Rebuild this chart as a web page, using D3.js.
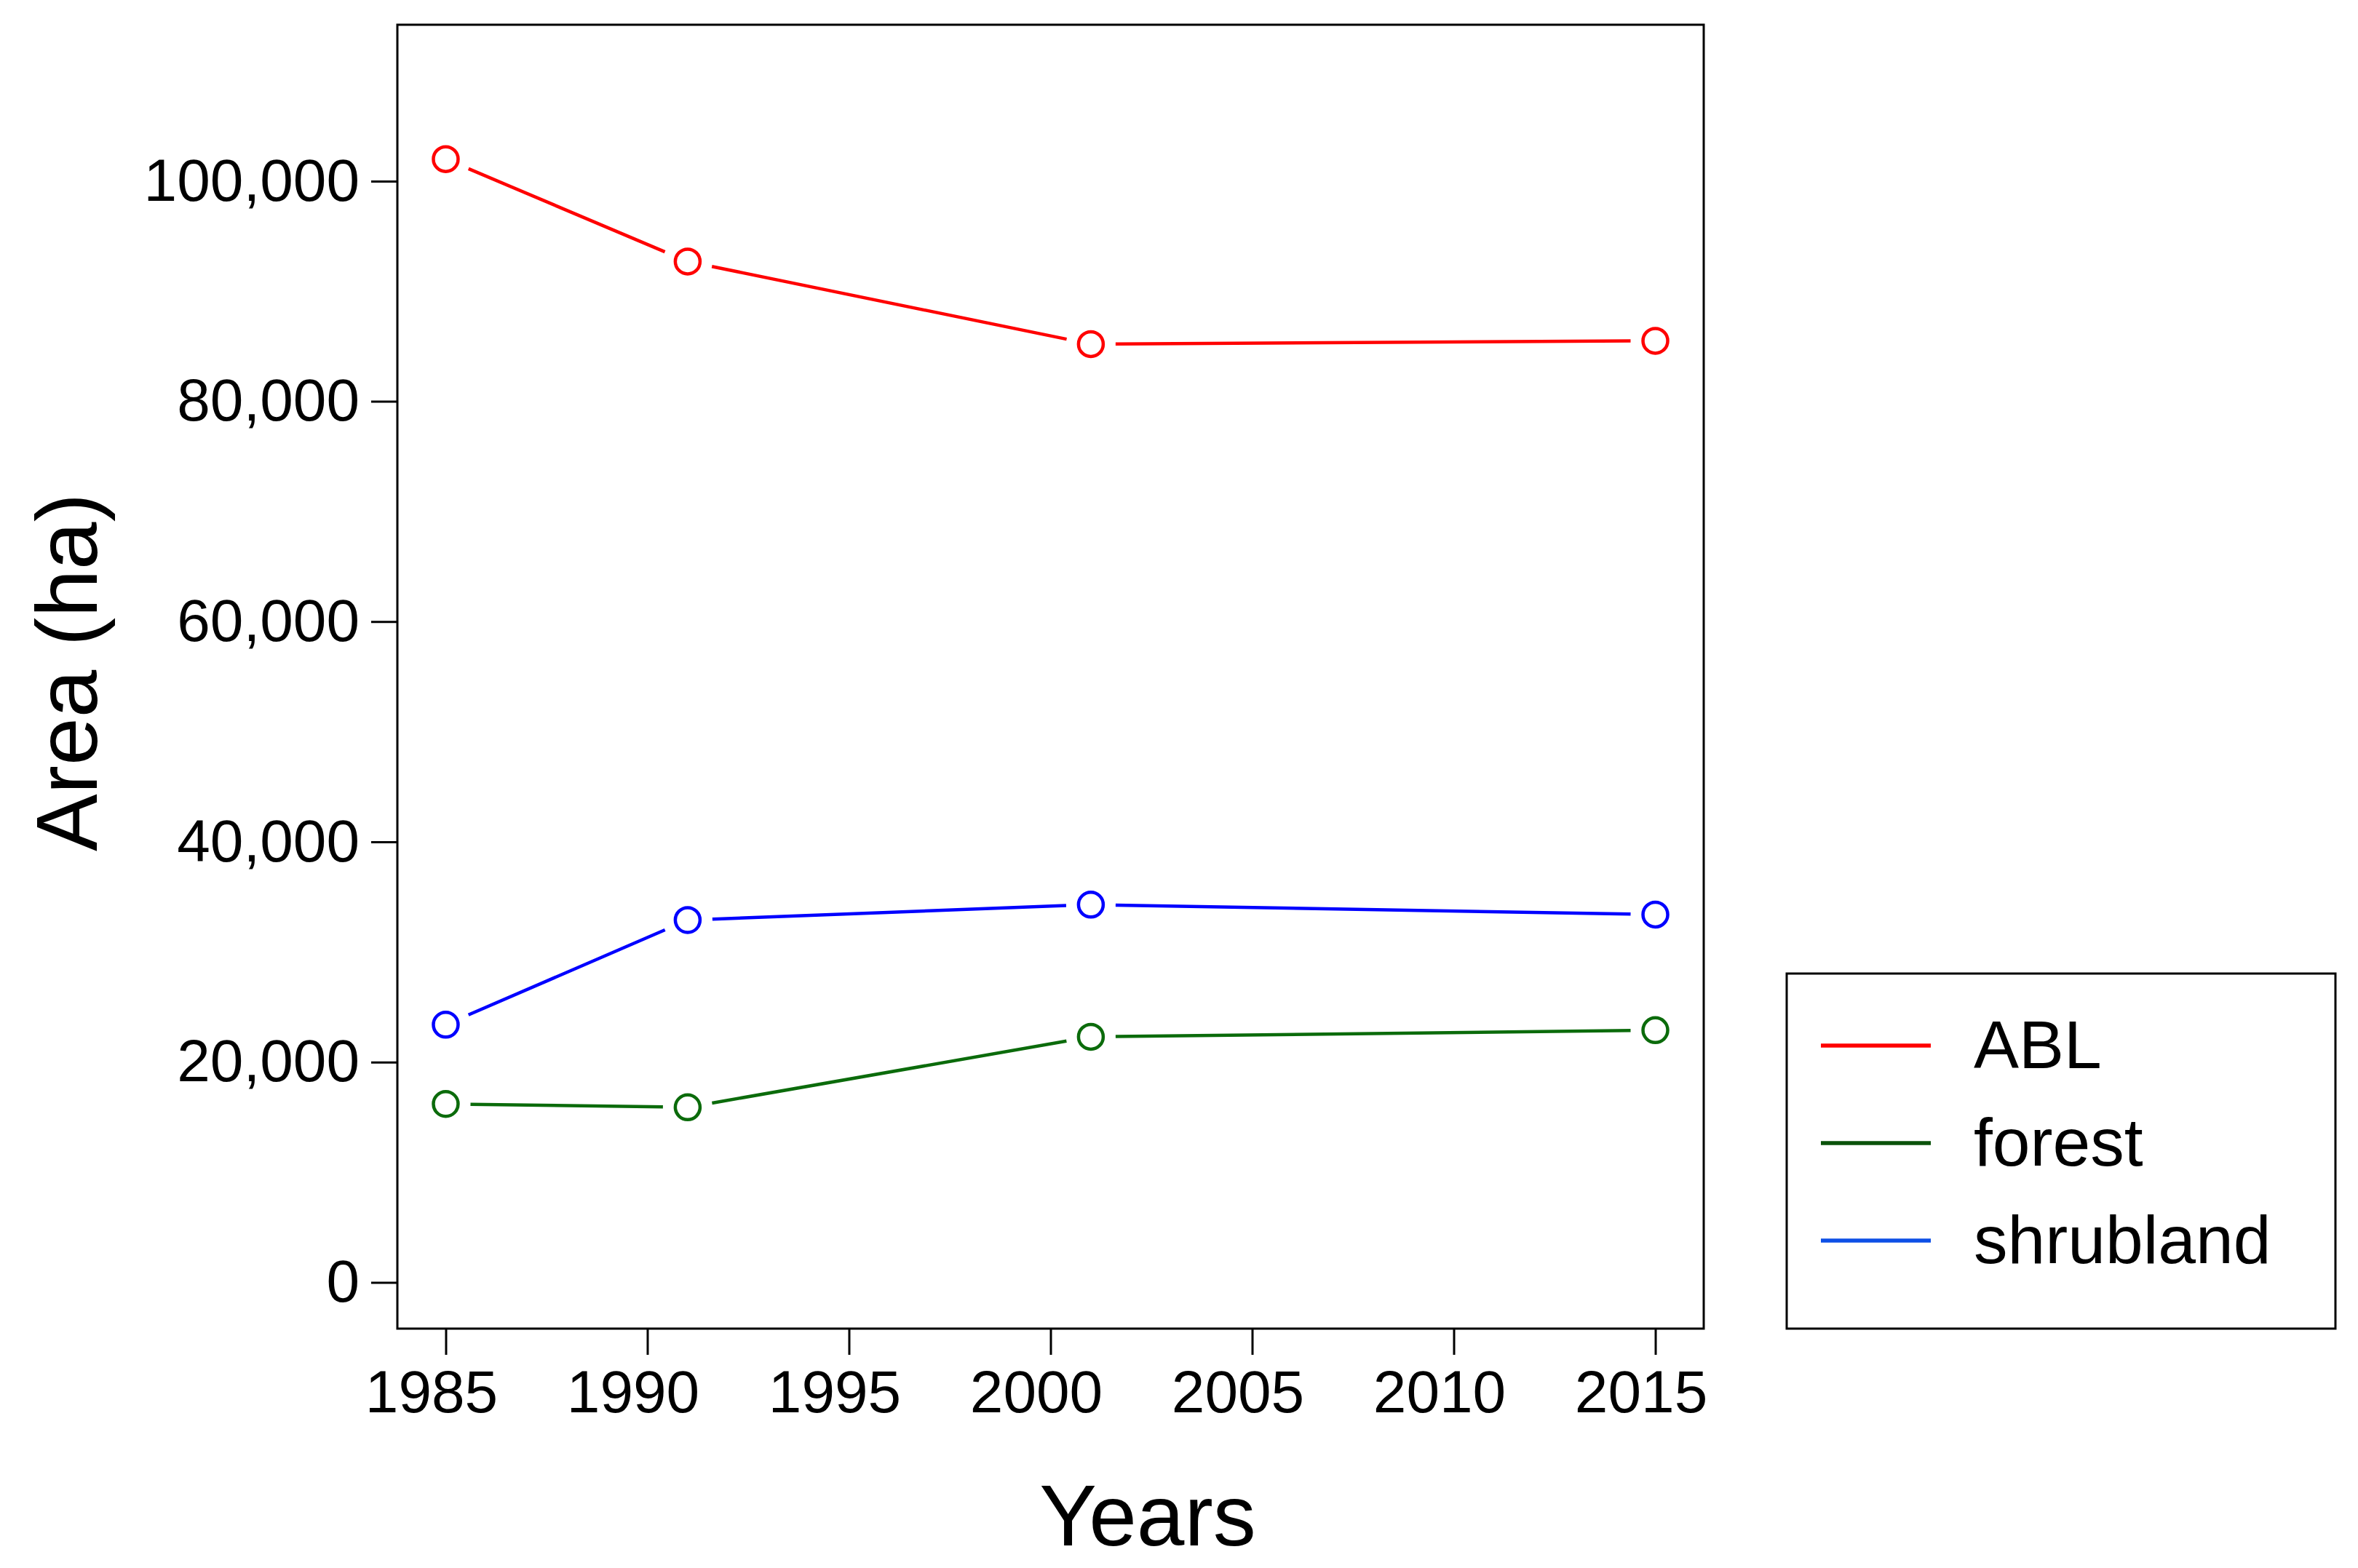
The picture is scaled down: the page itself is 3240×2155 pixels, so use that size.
<!DOCTYPE html>
<html>
<head>
<meta charset="utf-8">
<script src="https://cdn.jsdelivr.net/npm/d3@7"></script>
<style>
  body { margin: 0; background: #fff; }
  svg { display: block; font-family: "Liberation Sans", Arial, sans-serif; }
  .axis path.domain { display: none; }
  .axis line { stroke: #000; stroke-width: 3; }
  .axis text { font-size: 82px; fill: #000; }
</style>
</head>
<body>
<svg id="chart" width="3240" height="2155"></svg>
<script>
var years = [1985, 1991, 2001, 2015];
var ablValues = [102000, 92700, 85200, 85500];
var forestValues = [16200, 15900, 22300, 22900];
var shrublandValues = [23400, 32900, 34300, 33400];
var xTickValues = [1985, 1990, 1995, 2000, 2005, 2010, 2015];
var yTickValues = [0, 20000, 40000, 60000, 80000, 100000];
var seriesNames = ['ABL', 'forest', 'shrubland'];

(function() {
  'use strict';

  var svg = d3.select('#chart');

  // plot box, R style (4% padding round the limits)
  var x = d3.scaleLinear().domain([1983.8, 2016.2]).range([546, 2341]);
  var y = d3.scaleLinear().domain([-4200, 114200]).range([1826, 34]);

  var series = [
    {name: seriesNames[0], values: ablValues, color: '#ff0000', key: '#ff0000'},
    {name: seriesNames[1], values: forestValues, color: '#0b6b0b', key: '#0a520a'},
    {name: seriesNames[2], values: shrublandValues, color: '#0000ff', key: '#0d4fe6'}
  ];

  svg.append('rect')
    .attr('x', x.range()[0])
    .attr('y', y.range()[1])
    .attr('width', x.range()[1] - x.range()[0])
    .attr('height', y.range()[0] - y.range()[1])
    .attr('fill', 'none')
    .attr('stroke', '#000')
    .attr('stroke-width', 3);

  svg.append('g')
    .attr('class', 'axis')
    .attr('transform', 'translate(' + x.range()[0] + ',0)')
    .call(d3.axisLeft(y)
      .tickValues(yTickValues)
      .tickFormat(d3.format(','))
      .tickSize(36)
      .tickPadding(16));

  var xAxis = svg.append('g')
    .attr('class', 'axis')
    .attr('transform', 'translate(0,' + y.range()[0] + ')')
    .call(d3.axisBottom(x)
      .tickValues(xTickValues)
      .tickFormat(d3.format('d'))
      .tickSize(36)
      .tickPadding(21));

  // labels sit a little left of their ticks in the original
  xAxis.selectAll('text').attr('dx', -20);

  svg.selectAll('.axis text').attr('font-family', null);

  // type="b": segments stop short of the points
  var gap = 34;
  var segments = function(values) {
    var out = [];
    for (var i = 0; i < values.length - 1; i++) {
      var x0 = x(years[i]), y0 = y(values[i]);
      var x1 = x(years[i + 1]), y1 = y(values[i + 1]);
      var len = Math.sqrt((x1 - x0) * (x1 - x0) + (y1 - y0) * (y1 - y0));
      var ux = (x1 - x0) / len, uy = (y1 - y0) / len;
      out.push([x0 + ux * gap, y0 + uy * gap, x1 - ux * gap, y1 - uy * gap]);
    }
    return out;
  };

  series.forEach(function(s) {
    var g = svg.append('g');
    g.selectAll('line')
      .data(segments(s.values))
      .enter().append('line')
      .attr('x1', function(d) { return d[0]; })
      .attr('y1', function(d) { return d[1]; })
      .attr('x2', function(d) { return d[2]; })
      .attr('y2', function(d) { return d[3]; })
      .attr('stroke', s.color)
      .attr('stroke-width', 4.5);
    g.selectAll('circle')
      .data(s.values)
      .enter().append('circle')
      .attr('cx', function(d, i) { return x(years[i]); })
      .attr('cy', function(d) { return y(d); })
      .attr('r', 17)
      .attr('fill', 'none')
      .attr('stroke', s.color)
      .attr('stroke-width', 4.5);
  });

  svg.append('text')
    .attr('x', 1577)
    .attr('y', 2124)
    .attr('text-anchor', 'middle')
    .attr('font-size', 118)
    .text('Years');

  svg.append('text')
    .attr('transform', 'translate(133,924) rotate(-90)')
    .attr('text-anchor', 'middle')
    .attr('font-size', 118)
    .text('Area (ha)');

  // legend
  var legend = svg.append('g');
  legend.append('rect')
    .attr('x', 2455)
    .attr('y', 1338)
    .attr('width', 754)
    .attr('height', 488)
    .attr('fill', 'none')
    .attr('stroke', '#000')
    .attr('stroke-width', 3);

  var rowY = d3.scalePoint().domain(seriesNames).range([1437, 1705]);

  var rows = legend.selectAll('g.row')
    .data(series)
    .enter().append('g')
    .attr('class', 'row')
    .attr('transform', function(d) { return 'translate(0,' + rowY(d.name) + ')'; });

  rows.append('line')
    .attr('x1', 2502)
    .attr('x2', 2653)
    .attr('stroke', function(d) { return d.key; })
    .attr('stroke-width', 5.5);

  rows.append('text')
    .attr('x', 2712)
    .attr('y', 31)
    .attr('font-size', 93)
    .text(function(d) { return d.name; });
})();
</script>
</body>
</html>
